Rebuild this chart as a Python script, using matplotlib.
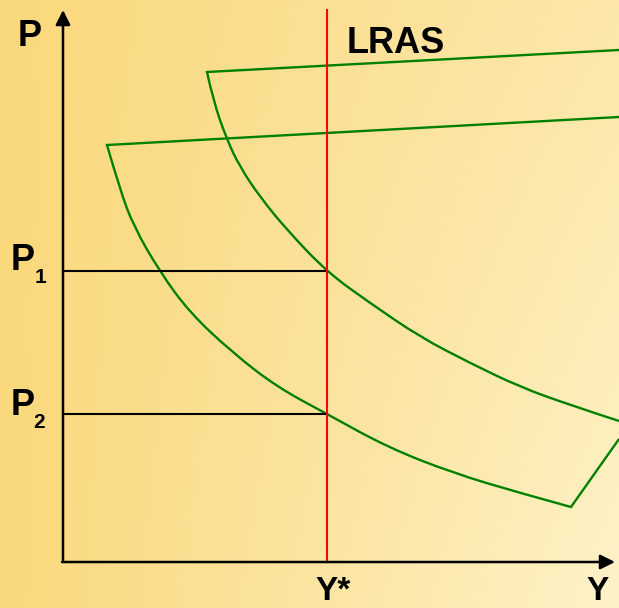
import numpy as np
import matplotlib.pyplot as plt
from matplotlib.path import Path
from matplotlib.patches import PathPatch

# (origin of the diagram at the axes corner)
ad1_y = [44, 57, 71, 97, 127, 170, 214, 264, 324, 390, 457, 508]
ad1_p = [417, 372, 335, 290, 249, 209, 175, 148, 115, 89, 69, 55]
ad1_top = (556, 445)     # top edge leaves the picture here
ad1_corner = (556, 123)  # corner side leaves the picture here

ad2_y = [144, 150, 164, 177, 197, 224, 264, 307, 357, 407, 457, 507, 556]
ad2_p = [490, 462, 422, 395, 365, 332, 290, 259, 225, 199, 175, 157, 141]
ad2_top = (556, 512)

y_star = 264
p1 = 291
p2 = 148
axis_top = 552
axis_right = 552


def ad_path(cy, cp, top, tail=None):
    # top edge, then a smooth curve through the read points (quadratic bezier)
    pts = list(zip(cy, cp))
    verts = [top, pts[0]]
    codes = [Path.MOVETO, Path.LINETO]
    for i in range(1, len(pts) - 1):
        nxt = pts[i + 1] if i == len(pts) - 2 else ((pts[i][0] + pts[i + 1][0]) / 2,
                                                    (pts[i][1] + pts[i + 1][1]) / 2)
        verts += [pts[i], nxt]
        codes += [Path.CURVE3, Path.CURVE3]
    if tail is not None:
        verts.append(tail)
        codes.append(Path.LINETO)
    return Path(verts, codes)


fig = plt.figure(figsize=(6.19, 6.08), dpi=100)
ax = fig.add_axes([0, 0, 1, 1])
ax.set_xlim(-63, 556)
ax.set_ylim(-46, 562)
ax.axis('off')

# background gradient
nx, ny = 300, 300
gx = np.linspace(0, 1, nx)
gy = np.linspace(0, 1, ny)  # 0 = top, 1 = bottom
X, Y = np.meshgrid(gx, gy)
t = X * (0.6 + 0.4 * Y)
c0 = np.array([250, 216, 124]) / 255
c1 = np.array([254, 242, 200]) / 255
img = c0[None, None, :] + t[:, :, None] * (c1 - c0)[None, None, :]
ax.imshow(img, extent=[-63, 556, -46, 562], origin='upper', aspect='auto', zorder=0)

green = '#008000'
lw = 1.7

ax.add_patch(PathPatch(ad_path(ad1_y, ad1_p, ad1_top, ad1_corner),
                       fill=False, edgecolor=green, lw=lw, joinstyle='miter', zorder=2))
ax.add_patch(PathPatch(ad_path(ad2_y, ad2_p, ad2_top),
                       fill=False, edgecolor=green, lw=lw, joinstyle='miter', zorder=2))

# price levels
ax.plot([0, y_star], [p1, p1], color='black', lw=1.5, zorder=3)
ax.plot([0, y_star], [p2, p2], color='black', lw=1.5, zorder=3)

# LRAS
ax.plot([y_star, y_star], [0, axis_top], color='#ff0000', lw=1.5, zorder=4)

# axes with arrows
arrow = dict(arrowstyle='-|>', lw=1.8, color='black', mutation_scale=22,
             shrinkA=0, shrinkB=0)
ax.annotate('', xy=(0, axis_top), xytext=(0, 0), arrowprops=arrow, zorder=5)
ax.annotate('', xy=(axis_right, 0), xytext=(-1, 0), arrowprops=arrow, zorder=5)

font = dict(family='Liberation Sans', weight='bold', color='black')
ax.text(-45, 516, 'P', fontsize=26, ha='left', va='baseline', **font)
ax.text(284, 509, 'LRAS', fontsize=26, ha='left', va='baseline', **font)
ax.text(-52, p1 + 1, 'P', fontsize=26, ha='left', va='baseline', **font)
ax.text(-28, p1 - 12, '1', fontsize=15, ha='left', va='baseline', **font)
ax.text(-52, p2 - 1, 'P', fontsize=26, ha='left', va='baseline', **font)
ax.text(-30, p2 - 14, '2', fontsize=15, ha='left', va='baseline', **font)
ax.text(252, -38, 'Y*', fontsize=24, ha='left', va='baseline', **font)
ax.text(523, -38, 'Y', fontsize=24, ha='left', va='baseline', **font)

fig.savefig('out.png', dpi=100)
